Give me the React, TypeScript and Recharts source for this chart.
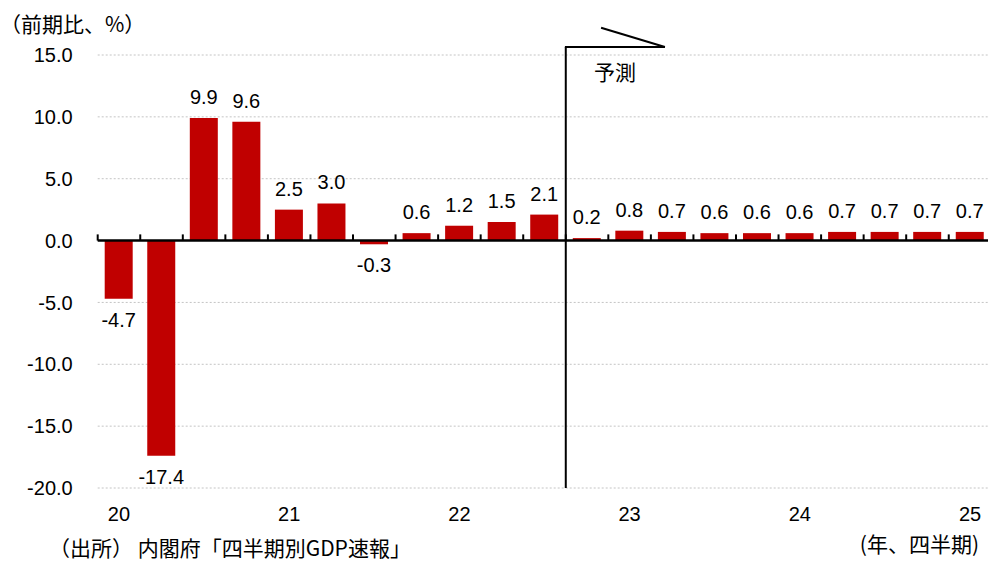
import React from 'react';
import { BarChart, Bar, XAxis, YAxis, CartesianGrid, ReferenceLine, LabelList } from 'recharts';

// Quarterly real GDP growth (q/q, %), 2020Q1 – 2025Q1; from 22Q4 onward forecast
const quarters = [
  '20Q1', '20Q2', '20Q3', '20Q4',
  '21Q1', '21Q2', '21Q3', '21Q4',
  '22Q1', '22Q2', '22Q3', '22Q4',
  '23Q1', '23Q2', '23Q3', '23Q4',
  '24Q1', '24Q2', '24Q3', '24Q4',
  '25Q1',
];
const growth = [
  -4.7, -17.4, 9.9, 9.6,
  2.5, 3.0, -0.3, 0.6,
  1.2, 1.5, 2.1, 0.2,
  0.8, 0.7, 0.6, 0.6,
  0.6, 0.7, 0.7, 0.7,
  0.7,
];
const yTicks = [15, 10, 5, 0, -5, -10, -15, -20];
const yearTicks = ['20Q1', '21Q1', '22Q1', '23Q1', '24Q1', '25Q1'];
const forecastStart = '22Q4';

// slot = quarter position on a continuous 0..N scale (bar centres sit at i + 0.5)
const data = quarters.map((q, i) => ({ q, v: growth[i], slot: i + 0.5 }));
const lastQuarter = quarters[quarters.length - 1];
const forecastIndex = quarters.indexOf(forecastStart);

// flag drawn at the top of the forecast divider, in (slot, %) units
const flagTop = 15.65;
const flagTipX = forecastIndex + 2.33;
const flagTailX = forecastIndex + 0.83;
const flagTailY = 17.2;

const W = 988;
const H = 563;
const NUM_FONT = '"Liberation Sans", Arial, sans-serif';
const JP_FONT = '"Noto Sans CJK JP", "Liberation Sans", sans-serif';

const BarValueLabel = (props: any) => {
  const { x, y, width, height, value } = props;
  const top = Math.min(y, y + height);
  const bottom = Math.max(y, y + height);
  const cx = x + width / 2;
  const ty = value >= 0 ? top - 14 : bottom + 28;
  return (
    <text x={cx} y={ty} textAnchor="middle" fontSize={20} fill="#000" fontFamily={NUM_FONT}>
      {Number(value).toFixed(1)}
    </text>
  );
};

export default function App() {
  return (
    <div style={{ position: 'absolute', left: 0, top: 0, width: W, height: H, background: '#fff' }}>
      <BarChart
        width={W}
        height={H}
        data={data}
        margin={{ top: 55, right: -3.3, bottom: 45, left: 0 }}
      >
        <CartesianGrid vertical={false} stroke="#c4c4c4" strokeDasharray="2 2" />
        <XAxis
          dataKey="q"
          ticks={yearTicks}
          interval={0}
          tickFormatter={(q: string) => q.slice(0, 2)}
          axisLine={false}
          tickLine={false}
          tickSize={0}
          tickMargin={19}
          height={30}
          tick={{ fontSize: 20, fill: '#000', fontFamily: NUM_FONT }}
        />
        <XAxis
          xAxisId="slot"
          dataKey="slot"
          type="number"
          domain={[0, quarters.length]}
          allowDataOverflow
          hide
        />
        <YAxis
          domain={[-20, 15]}
          ticks={yTicks}
          interval={0}
          allowDataOverflow
          width={97.7}
          axisLine={false}
          tickLine={false}
          tickSize={0}
          tickMargin={25}
          tickFormatter={(v: number) => v.toFixed(1)}
          tick={{ fontSize: 20, fill: '#000', fontFamily: NUM_FONT }}
        />
        <Bar dataKey="v" fill="#C00000" barSize={28} isAnimationActive={false}>
          <LabelList dataKey="v" content={BarValueLabel} />
        </Bar>
        <ReferenceLine y={0} stroke="#000" strokeWidth={2.5} />
        {/* small ticks on the zero line at each quarter boundary */}
        {quarters.map((q) => (
          <ReferenceLine
            key={`t${q}`}
            segment={[
              { x: q, y: 0 },
              { x: q, y: 0.5 },
            ]}
            position="start"
            stroke="#000"
            strokeWidth={2}
            ifOverflow="visible"
          />
        ))}
        <ReferenceLine
          segment={[
            { x: lastQuarter, y: 0 },
            { x: lastQuarter, y: 0.5 },
          ]}
          position="end"
          stroke="#000"
          strokeWidth={2}
          ifOverflow="visible"
        />
        {/* forecast marker: vertical divider with a flag on top */}
        <ReferenceLine
          segment={[
            { x: forecastStart, y: -20 },
            { x: forecastStart, y: flagTop },
          ]}
          position="start"
          stroke="#000"
          strokeWidth={2}
          ifOverflow="visible"
        />
        <ReferenceLine
          xAxisId="slot"
          segment={[
            { x: forecastIndex - 0.02, y: flagTop },
            { x: flagTipX, y: flagTop },
          ]}
          stroke="#000"
          strokeWidth={2}
          ifOverflow="visible"
        />
        <ReferenceLine
          xAxisId="slot"
          segment={[
            { x: flagTipX, y: flagTop },
            { x: flagTailX, y: flagTailY },
          ]}
          stroke="#000"
          strokeWidth={2}
          ifOverflow="visible"
        />
      </BarChart>

      {/* titles and notes */}
      <svg
        width={W}
        height={H}
        style={{ position: 'absolute', left: 0, top: 0, pointerEvents: 'none' }}
        fontFamily={JP_FONT}
        fontSize={21}
        fill="#000"
      >
        <text x={0} y={32}>（前期比、%）</text>
        <text x={594} y={80}>予測</text>
        <text x={49} y={556}>（出所） 内閣府「四半期別GDP速報」</text>
        <text x={979} y={552} textAnchor="end">(年、四半期)</text>
      </svg>
    </div>
  );
}
